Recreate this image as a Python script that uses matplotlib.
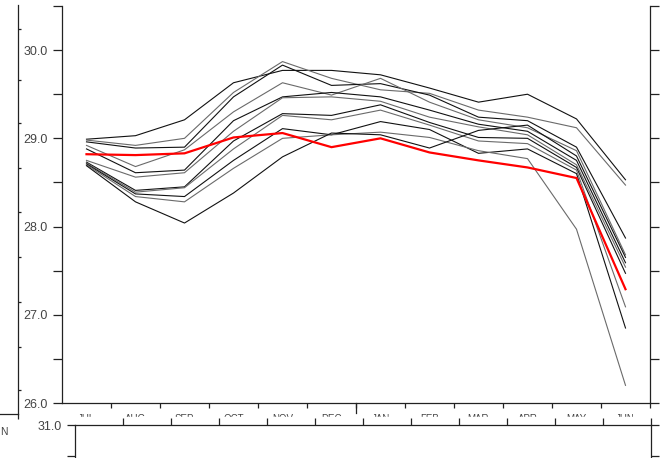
import matplotlib
matplotlib.use("Agg")
import matplotlib.pyplot as plt
from matplotlib.ticker import MultipleLocator, FixedLocator, FuncFormatter
from matplotlib.patches import Rectangle
from matplotlib.transforms import blended_transform_factory

months = ["JUL", "AUG", "SEP", "OCT", "NOV", "DEC",
          "JAN", "FEB", "MAR", "APR", "MAY", "JUN"]

# individual members (JUL..JUN)
m01 = [28.99, 29.03, 29.21, 29.63, 29.77, 29.77, 29.72, 29.57, 29.41, 29.50, 29.22, 28.53]
m02 = [28.98, 28.92, 29.00, 29.52, 29.87, 29.68, 29.55, 29.51, 29.32, 29.24, 29.12, 28.47]
m03 = [28.96, 28.89, 28.90, 29.47, 29.83, 29.60, 29.62, 29.49, 29.24, 29.20, 28.90, 27.87]
m04 = [28.92, 28.68, 28.87, 29.30, 29.63, 29.49, 29.68, 29.41, 29.21, 29.12, 28.86, 27.68]
m05 = [28.88, 28.61, 28.64, 29.20, 29.47, 29.52, 29.47, 29.32, 29.16, 29.08, 28.75, 27.59]
m06 = [28.75, 28.56, 28.61, 29.08, 29.46, 29.47, 29.42, 29.24, 29.13, 29.04, 28.70, 27.54]
m07 = [28.73, 28.41, 28.45, 28.97, 29.28, 29.26, 29.38, 29.18, 29.01, 29.00, 28.67, 27.47]
m08 = [28.72, 28.39, 28.44, 28.88, 29.26, 29.21, 29.32, 29.15, 28.97, 28.94, 28.64, 27.09]
m09 = [28.71, 28.37, 28.34, 28.75, 29.11, 29.04, 29.19, 29.10, 28.83, 28.88, 28.60, 26.85]
m10 = [28.70, 28.34, 28.28, 28.66, 29.00, 29.04, 29.07, 29.01, 28.86, 28.77, 27.97, 26.20]
m11 = [28.69, 28.28, 28.04, 28.38, 28.79, 29.06, 29.04, 28.89, 29.09, 29.15, 28.80, 27.65]
members = [m01, m02, m03, m04, m05, m06, m07, m08, m09, m10, m11]

# ensemble mean
mean_sst = [28.82, 28.81, 28.83, 29.01, 29.06, 28.90, 29.00, 28.84, 28.75, 28.67, 28.55, 27.29]

W, H = 662, 458
fig = plt.figure(figsize=(W / 100, H / 100), dpi=100)
plt.rcParams["font.family"] = ["Liberation Sans", "DejaVu Sans"]

AX_COL = "#222222"
TXT_COL = "#444444"


def px_axes(x0, y0, x1, y1, **kw):
    # box given in pixels, y measured from the top
    return fig.add_axes([x0 / W, 1 - y1 / H, (x1 - x0) / W, (y1 - y0) / H], **kw)


def style_spines(ax, show):
    for side, sp in ax.spines.items():
        sp.set_visible(side in show)
        sp.set_color(AX_COL)
        sp.set_linewidth(0.9)


# ---- main panel ----
ax = px_axes(62, 6, 650, 403)
style_spines(ax, ("left", "right", "bottom"))
xs = [i + 0.5 for i in range(len(months))]
member_colors = ["#111111", "#6a6a6a"] * 6
for vals, col in zip(members, member_colors):
    ax.plot(xs, vals, color=col, lw=0.8)
ax.plot(xs, mean_sst, color="#ff0000", lw=1.6, zorder=5)

ax.set_xlim(0, 12)
ax.set_ylim(26, 30.5)
ax.yaxis.set_major_locator(MultipleLocator(0.5))
ax.yaxis.set_major_formatter(FuncFormatter(
    lambda v, p: f"{v:.1f}" if abs(v - round(v)) < 1e-6 else ""))
ax.tick_params(axis="y", which="major", left=True, right=True, direction="out",
               length=6.5, width=0.9, color=AX_COL, pad=3.6,
               labelsize=9, labelcolor=TXT_COL)
ax.xaxis.set_major_locator(FixedLocator(range(1, 13)))
ax.xaxis.set_major_formatter(FuncFormatter(lambda v, p: ""))
ax.xaxis.set_minor_locator(FixedLocator(xs))
ax.set_xticklabels(months, minor=True)
ax.tick_params(axis="x", which="major", direction="out", length=3.3,
               width=0.9, color=AX_COL)
ax.tick_params(axis="x", which="minor", length=0, pad=7.6,
               labelsize=7, labelcolor=TXT_COL)
# longer tick at the year boundary
trans = blended_transform_factory(ax.transData, ax.transAxes)
ax.plot([6, 6], [0, -10 / 397], color=AX_COL, lw=0.9,
        transform=trans, clip_on=False)

# white band hiding the lower part of the month labels
fig.patches.append(Rectangle((55 / W, 0), 1, (H - 417) / H,
                             transform=fig.transFigure, color="white", zorder=5))

# ---- lower panel (top edge only) ----
ax2 = px_axes(75, 425, 651, 487, zorder=6)
ax2.patch.set_visible(False)
style_spines(ax2, ("left", "right", "top"))
ax2.set_xlim(0, 12)
ax2.set_ylim(30, 31)
ax2.xaxis.set_ticks_position("top")
ax2.set_xticks(range(1, 13))
ax2.set_xticklabels([])
ax2.tick_params(axis="x", direction="out", length=5, width=0.9, color=AX_COL)
ax2.set_yticks([31.0])
ax2.set_yticklabels(["31.0"])
ax2.set_yticks([30.5], minor=True)
ax2.tick_params(axis="y", which="both", left=True, right=True, direction="out",
                length=5.8, width=0.9, color=AX_COL, pad=3.6,
                labelsize=9, labelcolor=TXT_COL)

# ---- left panel (right edge only) ----
ax0 = px_axes(-100, 5, 18, 414)
ax0.patch.set_visible(False)
style_spines(ax0, ("right", "bottom"))
ax0.set_xlim(0, 118)
ax0.set_ylim(0, 409)
ax0.set_xticks([118])
ax0.set_xticklabels([])
ax0.tick_params(axis="x", direction="out", length=3.6, width=0.9, color=AX_COL)
ax0.yaxis.set_ticks_position("right")
ax0.set_yticks([24, 67, 112, 157, 202, 246, 291, 334, 385])
ax0.set_yticklabels([])
ax0.tick_params(axis="y", direction="out", length=2.2, width=0.9, color=AX_COL)
fig.text(0 / W, 1 - 432 / H, "N", fontsize=7.5, color=TXT_COL,
         ha="left", va="center")

fig.savefig("out.png", dpi=100)
